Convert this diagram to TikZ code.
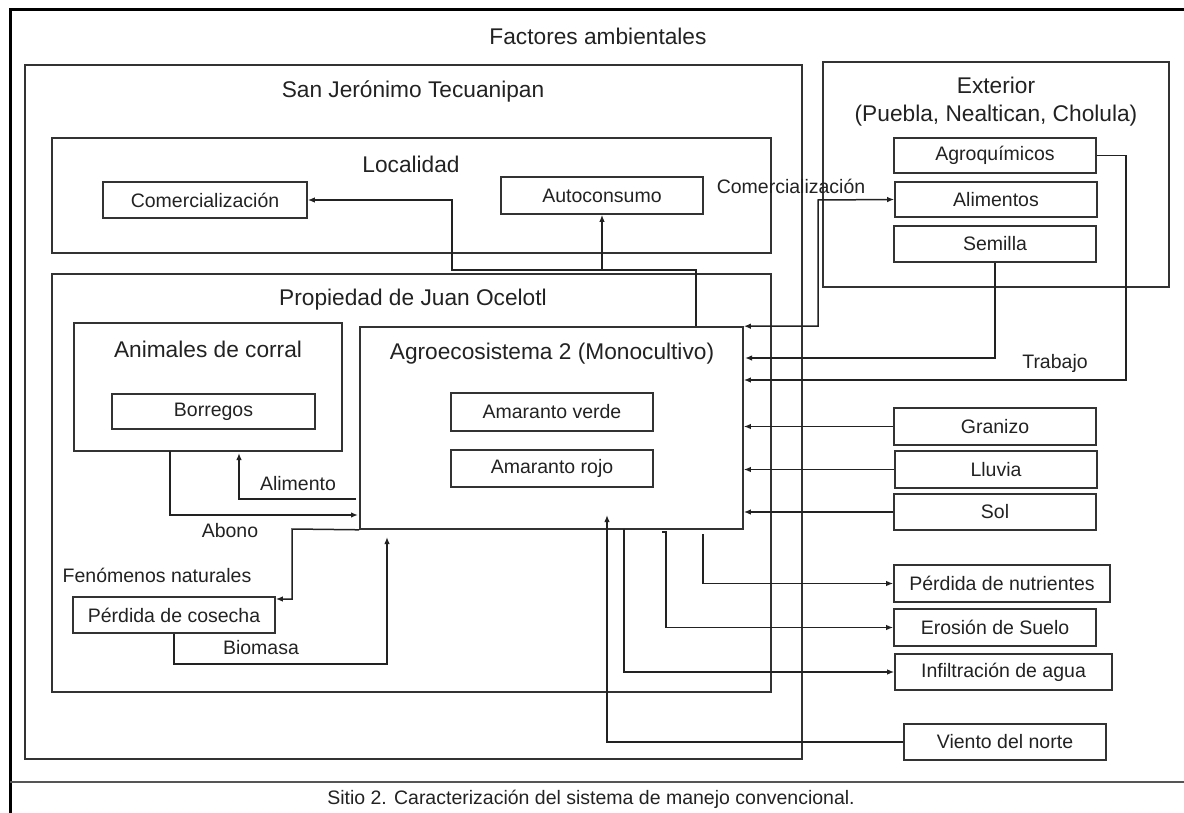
\documentclass[tikz,border=0pt]{standalone}
\usepackage{fontspec}
\setmainfont{Liberation Sans}
\usetikzlibrary{arrows.meta}
\definecolor{ink}{HTML}{222222}
\definecolor{edge}{HTML}{333333}
\definecolor{rule}{HTML}{555555}
\begin{document}
\begin{tikzpicture}[x=1pt,y=-1pt,
  frame/.style={draw=edge, line width=1.6pt, inner sep=0pt},
  box/.style={draw=edge, line width=1.6pt, inner sep=0pt, text=ink, font=\fontsize{19.5}{23}\selectfont},
  title/.style={text=ink, inner sep=0pt, font=\fontsize{22.7}{28}\selectfont},
  lbl/.style={text=ink, inner sep=0pt, font=\fontsize{19.5}{23}\selectfont},
  conn/.style={draw=ink, line width=1.5pt, -{Latex[length=7pt,width=5.5pt]}},
  conn2/.style={draw=ink, line width=1.5pt, {Latex[length=7pt,width=5.5pt]}-{Latex[length=7pt,width=5.5pt]}}]
\useasboundingbox (0,0) rectangle (1184,813);
% outer frame
\draw[line width=3pt, black] (1184,10) -- (10,10) -- (10,813);
\draw[line width=1.8pt, rule] (10,782) -- (1184,782);
\node[lbl] (cap) at (591,799) {Sitio 2. Caracterización del sistema de manejo convencional.};
\node[title] (tfact) at (598,36) {Factores ambientales};
% containers
\node[frame, minimum width=777pt, minimum height=694pt] (sanjer) at (413.5,412) {};
\node[title] (tsanjer) at (413,91) {San Jerónimo Tecuanipan};
\node[frame, minimum width=719pt, minimum height=115pt] (local) at (411.5,195.5) {};
\node[title] (tlocal) at (411,164) {Localidad};
\node[frame, minimum width=719pt, minimum height=418pt] (prop) at (411.5,483) {};
\node[title] (tprop) at (413,300) {Propiedad de Juan Ocelotl};
\node[frame, minimum width=268pt, minimum height=128pt] (anim) at (208,387) {};
\node[title] (tanim) at (208,349) {Animales de corral};
\node[frame, minimum width=383pt, minimum height=202pt] (agro) at (551.5,428) {};
\node[title] (tagro) at (552,354) {Agroecosistema 2 (Monocultivo)};
\node[frame, minimum width=346pt, minimum height=225pt] (ext) at (996,174.5) {};
\node[title, align=center] (text) at (996,102) {Exterior\\(Puebla, Nealtican, Cholula)};
% boxes
\node[box, minimum width=204pt, minimum height=36pt] (comer) at (205,200) {Comercialización};
\node[box, minimum width=202pt, minimum height=37pt] (auto) at (602,195.5) {Autoconsumo};
\node[box, minimum width=203pt, minimum height=35pt] (borr) at (213.5,411.5) {Borregos};
\node[box, minimum width=202pt, minimum height=38pt] (averde) at (552,412) {Amaranto verde};
\node[box, minimum width=202pt, minimum height=37pt] (arojo) at (552,468.5) {Amaranto rojo};
\node[box, minimum width=202pt, minimum height=36pt] (cosecha) at (174,615) {Pérdida de cosecha};
\node[box, minimum width=202pt, minimum height=35pt] (agroq) at (995,155.5) {Agroquímicos};
\node[box, minimum width=202pt, minimum height=35pt] (alim) at (996,199.5) {Alimentos};
\node[box, minimum width=202pt, minimum height=36pt] (semilla) at (995,244) {Semilla};
\node[box, minimum width=202pt, minimum height=37pt] (granizo) at (995,426.5) {Granizo};
\node[box, minimum width=202pt, minimum height=37pt] (lluvia) at (996,469.5) {Lluvia};
\node[box, minimum width=202pt, minimum height=36pt] (sol) at (995,512) {Sol};
\node[box, minimum width=216pt, minimum height=37pt] (nutri) at (1002,583.5) {Pérdida de nutrientes};
\node[box, minimum width=202pt, minimum height=37pt] (eros) at (995,627.5) {Erosión de Suelo};
\node[box, minimum width=217pt, minimum height=36pt] (infil) at (1003.5,672) {Infiltración de agua};
\node[box, minimum width=202pt, minimum height=36pt] (viento) at (1005,742) {Viento del norte};
% labels
\node[lbl] (lcomer) at (791,186) {Comercialización};
\node[lbl] (ltrab) at (1055,363) {Trabajo};
\node[lbl] (lalim) at (298,484) {Alimento};
\node[lbl] (labono) at (230,531) {Abono};
\node[lbl] (lfen) at (157,575) {Fenómenos naturales};
\node[lbl] (lbio) at (261,648) {Biomasa};
% junction coordinates
\coordinate (j1) at (696,270);
\coordinate (k1) at (452,270);
\coordinate (k2) at (818,200);
\coordinate (sIn) at (745,358);
\coordinate (t1) at (1126,380);
\coordinate (n0) at (703,534);
\coordinate (e0) at (662,532);
\coordinate (e1) at (666,532);
\coordinate (i0) at (624,529);
\coordinate (v1) at (607,515);
\coordinate (a1) at (356,499);
\coordinate (a2) at (239,453);
\coordinate (ab0) at (170,451);
\coordinate (ab1) at (358,515);
\coordinate (f1) at (292,529);
\coordinate (f2) at (292,599);
\coordinate (b1) at (387,664);
\coordinate (b2) at (387,537);
% connectors
\draw[conn] (j1 |- agro.north) -- (j1) -- (k1) |- (comer.east);
\draw[conn] (auto.south |- k1) -- (auto.south);
\draw[conn2] (agro.north east) -| (k2) -- (alim.west);
\draw[conn] (semilla.south) |- (sIn);
\draw[conn] (agroq.east) -| (t1) -- (t1 -| agro.east);
\draw[conn] (granizo.west) -- (granizo.west -| agro.east);
\draw[conn] (lluvia.west) -- (lluvia.west -| agro.east);
\draw[conn] (sol.west) -- (sol.west -| agro.east);
\draw[conn] (n0) |- (nutri.west);
\draw[conn] (e0) -- (e1) |- (eros.west);
\draw[conn] (i0) |- (infil.west);
\draw[conn] (viento.west) -| (v1);
\draw[conn] (a1) -| (a2);
\draw[conn] (ab0) |- (ab1);
\draw[conn] (agro.south west) -- (f1) -- (f2) -- (f2 -| cosecha.east);
\draw[conn] (cosecha.south) |- (b1) -- (b2);
\end{tikzpicture}
\end{document}
